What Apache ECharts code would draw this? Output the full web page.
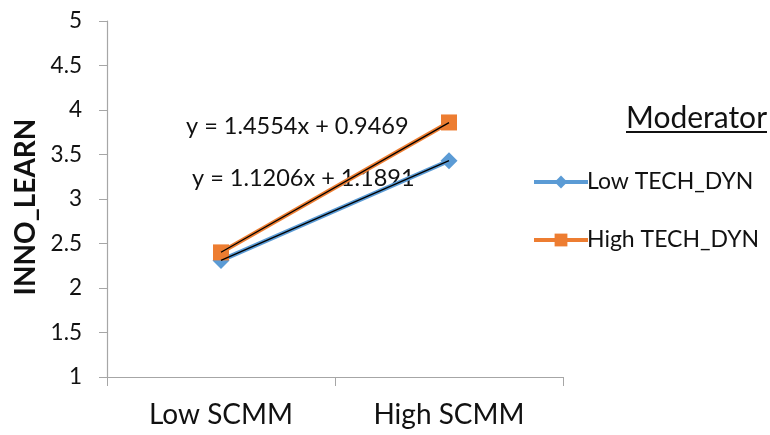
<!DOCTYPE html>
<html><head><meta charset="utf-8">
<script src="https://cdn.jsdelivr.net/npm/echarts@6/dist/echarts.min.js"></script>
<style>html,body{margin:0;padding:0;background:#fff}#c{width:770px;height:435px}</style>
</head><body><div id="c"></div>
<script>
const categories = ['Low SCMM', 'High SCMM'];
const lowTech = [2.31, 3.43];
const highTech = [2.40, 3.86];
const seriesNames = ['Low TECH_DYN', 'High TECH_DYN'];
const trendSlopes = [1.1206, 1.4554];
const trendIntercepts = [1.1891, 0.9469];
const eqLabels = ['y = 1.4554x + 0.9469', 'y = 1.1206x + 1.1891'];
const yTicks = [1, 1.5, 2, 2.5, 3, 3.5, 4, 4.5, 5];

const trend = (i) => categories.map((c, k) => +(trendSlopes[i] * (k + 1) + trendIntercepts[i]).toFixed(4));
const F = 'Lato, "Open Sans", sans-serif';
const chart = echarts.init(document.getElementById('c'));
chart.setOption({
  animation: false,
  grid: { left: 107, right: 207, top: 21, bottom: 58 },
  xAxis: {
    type: 'category', data: categories, boundaryGap: true,
    axisLine: { lineStyle: { color: '#a6a6a6', width: 1.2 } },
    axisTick: { show: true, length: 9, lineStyle: { color: '#a6a6a6' } },
    axisLabel: { fontFamily: F, fontSize: 28, color: '#111', margin: 24 }
  },
  yAxis: {
    type: 'value', min: yTicks[0], max: yTicks[yTicks.length - 1], interval: 0.5,
    name: 'INNO_LEARN', nameLocation: 'middle', nameRotate: 90, nameGap: 54,
    nameTextStyle: { fontFamily: F, fontSize: 28, fontWeight: 'bold', color: '#111', padding: [0, 16, 0, 0] },
    axisLine: { show: true, lineStyle: { color: '#a6a6a6', width: 1.2 } },
    axisTick: { show: true, length: 8, lineStyle: { color: '#a6a6a6' } },
    splitLine: { show: false },
    axisLabel: { fontFamily: F, fontSize: 22.5, color: '#111', margin: 25 }
  },
  legend: {
    orient: 'vertical', left: 527, top: 165, itemGap: 34,
    itemWidth: 54, itemHeight: 16,
    data: [
      { name: seriesNames[0], lineStyle: { width: 4 } },
      { name: seriesNames[1], lineStyle: { width: 4 } }
    ],
    textStyle: { fontFamily: F, fontSize: 23, lineHeight: 24, color: '#111', padding: [0, 0, 0, -6] }
  },
  graphic: [
    { type: 'text', left: 626, top: 103, style: { text: 'Moderator', fontFamily: F, fontSize: 30, fill: '#111' } },
    { type: 'rect', left: 626, top: 131, shape: { width: 141, height: 2 }, style: { fill: '#111' } },
    { type: 'text', left: 186, top: 114, style: { text: eqLabels[0], fontFamily: F, fontSize: 23.5, fill: '#111' } },
    { type: 'text', left: 192, top: 166, style: { text: eqLabels[1], fontFamily: F, fontSize: 23.5, fill: '#111' } }
  ],
  series: [
    { name: seriesNames[0], type: 'line', data: lowTech, symbol: 'diamond', symbolSize: 17,
      lineStyle: { color: '#5B9BD5', width: 4.5 }, itemStyle: { color: '#5B9BD5' }, z: 2 },
    { name: seriesNames[1], type: 'line', data: highTech, symbol: 'rect', symbolSize: 16,
      lineStyle: { color: '#ED7D31', width: 4.5 }, itemStyle: { color: '#ED7D31' }, z: 2 },
    { name: 'trend1', type: 'line', data: trend(0), symbol: 'none',
      lineStyle: { color: '#000', width: 1.3 }, z: 5, silent: true },
    { name: 'trend2', type: 'line', data: trend(1), symbol: 'none',
      lineStyle: { color: '#000', width: 1.3 }, z: 5, silent: true }
  ]
});
</script></body></html>
